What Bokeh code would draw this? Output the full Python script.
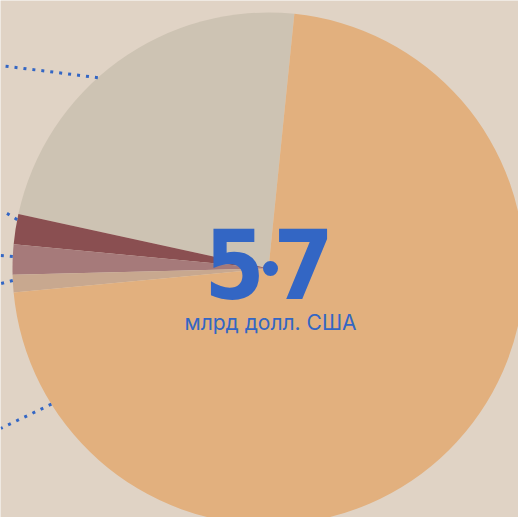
import math
from bokeh.plotting import figure
from bokeh.models import Range1d, Label
from bokeh.embed import file_html
from bokeh.resources import INLINE

# data (shares of total, %)
categories = ["A", "B", "C", "D", "E"]
shares = [23.2, 1.9, 1.9, 1.1, 71.9]
colors = ["#cdc3b3", "#8a4f51", "#a67a7a", "#c8a88f", "#e2b07e"]
total_label_left = "5"
total_label_right = "7"
unit_label = "млрд долл. США"

# leader lines: anchor angle on the rim (deg), direction (deg), length (px)
leader_anchor = [131.8, 169.0, 177.3, 182.7, 212.0]
leader_dir = [172.9, 148.4, 175.0, 194.0, 205.6]
leader_len = [98, 15, 12, 12, 56]

BG = "#e0d3c5"
BLUE = "#3366c4"
start_deg = 84.2
R = 256

p = figure(width=518, height=517, output_backend="svg", toolbar_location=None,
           x_range=Range1d(-268, 250), y_range=Range1d(-249, 268),
           background_fill_color=BG, border_fill_color=BG, min_border=0)
p.axis.visible = False
p.grid.visible = False
p.outline_line_color = None

starts, ends = [], []
a = start_deg
for s in shares:
    starts.append(math.radians(a))
    a += s / 100 * 360
    ends.append(math.radians(a))

p.wedge(x=0, y=0, radius=R, start_angle=starts, end_angle=ends,
        fill_color=colors, line_color=None)

xs, ys = [], []
for ang, d, L in zip(leader_anchor, leader_dir, leader_len):
    x0 = R * math.cos(math.radians(ang))
    y0 = R * math.sin(math.radians(ang))
    x1 = x0 + L * math.cos(math.radians(d))
    y1 = y0 + L * math.sin(math.radians(d))
    xs.append([x0, x1])
    ys.append([y0, y1])
p.multi_line(xs=xs, ys=ys, line_color=BLUE, line_width=3, line_dash="3 6")

p.scatter(x=[2], y=[0], size=15, fill_color=BLUE, line_color=None)

p.add_layout(Label(x=2, y=-66, text=unit_label, text_font="Inter",
                   text_font_size="21px", text_color=BLUE,
                   text_align="center", text_baseline="bottom"))

for x, txt in [(-34, total_label_left), (35, total_label_right)]:
    p.add_layout(Label(x=x, y=-30, text=txt,
                       text_font="DejaVu Sans Condensed",
                       text_font_size="97px", text_font_style="bold",
                       text_color=BLUE, text_align="center",
                       text_baseline="bottom"))

open("out.html", "w").write(file_html(p, INLINE))
